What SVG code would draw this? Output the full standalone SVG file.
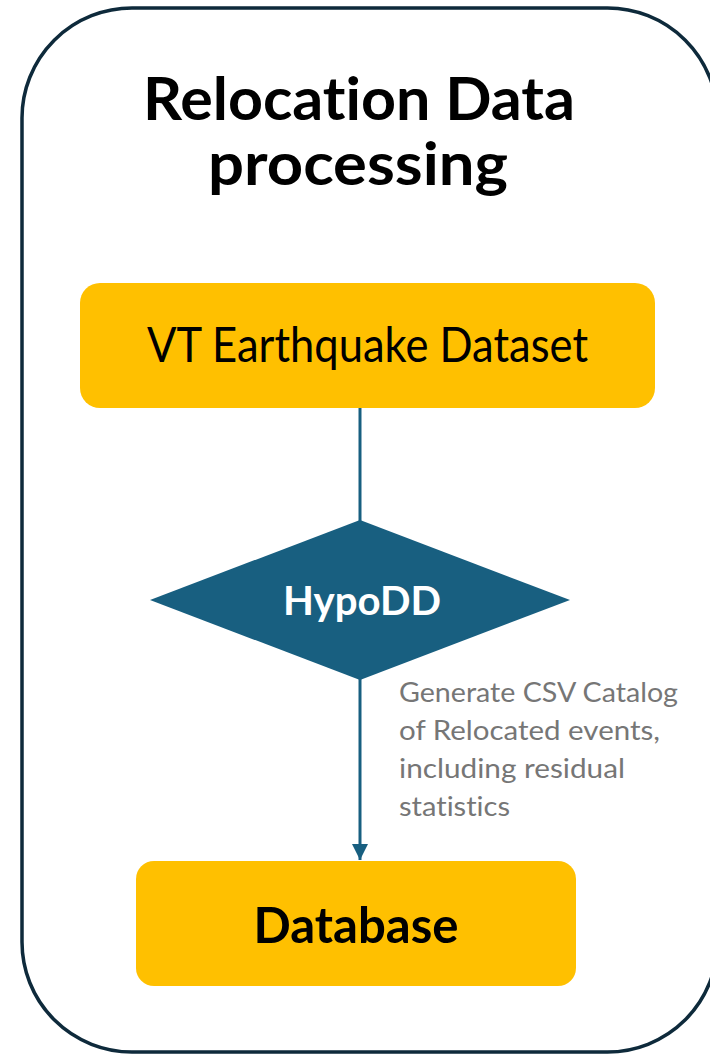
<svg xmlns="http://www.w3.org/2000/svg" width="710" height="1054" viewBox="0 0 710 1054">
  <defs>
    <style>
      text { font-variant-ligatures: none; font-feature-settings: "liga" 0, "clig" 0; }
      .frame { fill: #ffffff; stroke: #0e2a3b; stroke-width: 3.5; }
      .box { fill: #ffc000; }
      .dec { fill: #185f80; }
      .edge { stroke: #185f80; stroke-width: 3; fill: none; }
      .title { font-family: Lato, "Liberation Sans", Arial, sans-serif; font-weight: bold; font-size: 60px; fill: #000000; text-anchor: middle; }
      .lbl { font-family: Lato, "Liberation Sans", Arial, sans-serif; font-size: 49px; fill: #000000; text-anchor: middle; }
      .lblb { font-family: Lato, "Liberation Sans", Arial, sans-serif; font-weight: bold; font-size: 49px; fill: #000000; text-anchor: middle; }
      .dlbl { font-family: Lato, "Liberation Sans", Arial, sans-serif; font-weight: bold; font-size: 40px; fill: #ffffff; text-anchor: middle; }
      .note { font-family: Lato, "Liberation Sans", Arial, sans-serif; font-size: 26px; fill: #767676; }
    </style>
    <marker id="arrow" viewBox="0 0 16 16" refX="16" refY="8" markerWidth="16" markerHeight="16" markerUnits="userSpaceOnUse" orient="auto">
      <path d="M0,0 L16,8 L0,16 Z" fill="#185f80"/>
    </marker>
  </defs>
  <rect id="frame" class="frame" x="22" y="8" width="695.5" height="1044" rx="110" ry="110"/>
  <g id="title">
    <text class="title" x="359" y="120" textLength="432" lengthAdjust="spacingAndGlyphs">Relocation Data</text>
    <text class="title" x="358" y="185" textLength="300" lengthAdjust="spacingAndGlyphs">processing</text>
  </g>
  <g id="connectors">
    <line class="edge" x1="360" y1="408" x2="360" y2="521"/>
    <line class="edge" x1="360" y1="679" x2="360" y2="860" marker-end="url(#arrow)"/>
    <g id="edge-label">
      <text class="note" x="399" y="702" textLength="279" lengthAdjust="spacingAndGlyphs">Generate CSV Catalog</text>
      <text class="note" x="399" y="740" textLength="261" lengthAdjust="spacingAndGlyphs">of Relocated events,</text>
      <text class="note" x="399" y="778" textLength="226" lengthAdjust="spacingAndGlyphs">including residual</text>
      <text class="note" x="399" y="816" textLength="111" lengthAdjust="spacingAndGlyphs">statistics</text>
    </g>
  </g>
  <g id="node-dataset">
    <rect class="box" x="80" y="283" width="575" height="125" rx="20" ry="20"/>
    <text class="lbl" x="367.5" y="362" textLength="441" lengthAdjust="spacingAndGlyphs">VT Earthquake Dataset</text>
  </g>
  <g id="node-hypodd">
    <polygon class="dec" points="360,520 570,600 360,680 150,600"/>
    <text class="dlbl" x="362" y="615" textLength="158" lengthAdjust="spacingAndGlyphs">HypoDD</text>
  </g>
  <g id="node-database">
    <rect class="box" x="136" y="861" width="440" height="125" rx="18" ry="18"/>
    <text class="lblb" x="356" y="943" textLength="205" lengthAdjust="spacingAndGlyphs">Database</text>
  </g>
</svg>
